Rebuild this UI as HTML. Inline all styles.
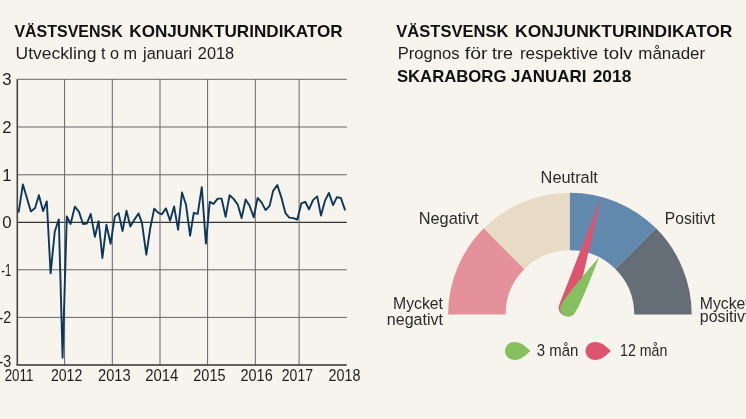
<!DOCTYPE html>
<html><head><meta charset="utf-8"><title>Västsvensk konjunkturindikator</title>
<style>
html,body{margin:0;padding:0;background:#f7f4ed;}
svg{display:block;font-family:"Liberation Sans",sans-serif;fill:#1e1e1e;}
.b{font-weight:bold;fill:#111;}
</style></head><body>
<svg width="746" height="419" viewBox="0 0 746 419">
<rect width="746" height="419" fill="#f7f4ed"/>
<g font-size="16.4">
<text y="37.3" class="b"><tspan x="14.4" textLength="108.3" lengthAdjust="spacingAndGlyphs">VÄSTSVENSK</tspan> <tspan x="129.3" textLength="213.4" lengthAdjust="spacingAndGlyphs">KONJUNKTURINDIKATOR</tspan></text>
<text y="58.9" font-size="16.8"><tspan x="15.6" textLength="80.8" lengthAdjust="spacingAndGlyphs">Utveckling</tspan> <tspan x="101.0" textLength="36.1" lengthAdjust="spacingAndGlyphs">t o m</tspan> <tspan x="143.0" textLength="49.2" lengthAdjust="spacingAndGlyphs">januari</tspan> <tspan x="197.8" textLength="36.4" lengthAdjust="spacingAndGlyphs">2018</tspan></text>
<text y="37.4" class="b" font-size="16.6"><tspan x="396.3" textLength="112.1" lengthAdjust="spacingAndGlyphs">VÄSTSVENSK</tspan> <tspan x="515.1" textLength="217.3" lengthAdjust="spacingAndGlyphs">KONJUNKTURINDIKATOR</tspan></text>
<text y="58.8" font-size="16.8"><tspan x="397.7" textLength="61.9" lengthAdjust="spacingAndGlyphs">Prognos</tspan> <tspan x="464.8" textLength="22.7" lengthAdjust="spacingAndGlyphs">för</tspan> <tspan x="492.0" textLength="21.0" lengthAdjust="spacingAndGlyphs">tre</tspan> <tspan x="519.9" textLength="78.1" lengthAdjust="spacingAndGlyphs">respektive</tspan> <tspan x="603.6" textLength="29.0" lengthAdjust="spacingAndGlyphs">tolv</tspan> <tspan x="638.3" textLength="66.8" lengthAdjust="spacingAndGlyphs">månader</tspan></text>
<text y="81.8" class="b" font-size="16.6"><tspan x="396.9" textLength="109.5" lengthAdjust="spacingAndGlyphs">SKARABORG</tspan> <tspan x="511.1" textLength="75.3" lengthAdjust="spacingAndGlyphs">JANUARI</tspan> <tspan x="592.7" textLength="38.6" lengthAdjust="spacingAndGlyphs">2018</tspan></text>
</g>
<g shape-rendering="auto">
<line x1="17.3" y1="79.3" x2="346.8" y2="79.3" stroke="#666" stroke-width="1"/>
<line x1="17.3" y1="127" x2="346.8" y2="127" stroke="#666" stroke-width="1"/>
<line x1="17.3" y1="174.8" x2="346.8" y2="174.8" stroke="#666" stroke-width="1"/>
<line x1="17.3" y1="222.4" x2="346.8" y2="222.4" stroke="#333" stroke-width="1.4"/>
<line x1="17.3" y1="269.8" x2="346.8" y2="269.8" stroke="#666" stroke-width="1"/>
<line x1="17.3" y1="317.4" x2="346.8" y2="317.4" stroke="#666" stroke-width="1"/>
<line x1="17.3" y1="79.3" x2="17.3" y2="365" stroke="#444" stroke-width="1.6"/>
<line x1="64.6" y1="79.3" x2="64.6" y2="365" stroke="#666" stroke-width="1"/>
<line x1="112.3" y1="79.3" x2="112.3" y2="365" stroke="#666" stroke-width="1"/>
<line x1="160" y1="79.3" x2="160" y2="365" stroke="#666" stroke-width="1"/>
<line x1="207.6" y1="79.3" x2="207.6" y2="365" stroke="#666" stroke-width="1"/>
<line x1="255.3" y1="79.3" x2="255.3" y2="365" stroke="#666" stroke-width="1"/>
<line x1="299.1" y1="79.3" x2="299.1" y2="365" stroke="#666" stroke-width="1"/>
<line x1="16.5" y1="365" x2="346.8" y2="365" stroke="#333" stroke-width="1.6"/>
</g>
<polyline points="18.7,211.9 22.9,184.4 26.9,197.9 30.9,211.4 35.1,208.1 38.9,195.2 43.1,211.1 46.8,201.4 50.6,273.4 54.8,231.5 58.8,219.4 62.6,357.7 66.8,216.4 70.6,224 74.8,206.7 79,211.9 83,224 86.9,223.5 90.7,213.9 94.9,236.8 98.6,221.1 102.4,258 106.4,224.8 110.6,243.8 114.8,216.4 118.6,213.1 122.5,231.1 126.5,210.6 130.3,226.5 134.5,219.5 138.5,213.4 142,223.1 146.3,254.7 150.3,228 154.2,208.6 158.4,212.8 161.9,214.3 165.9,208.4 170.1,220.6 174.1,206.4 178.1,229.8 182,192.5 186,204.7 190.1,235.7 193.8,212.8 197.7,213.9 201.8,187.2 205.9,243.6 209.7,201.9 213.5,203.9 217.7,198.6 221.6,198.6 225.6,216.8 229.6,195.2 233.6,198.9 237.8,204.7 241.6,218.1 245.6,199.5 249.6,205.8 253.7,217.3 257.6,197.9 261.7,202.6 265.6,210.1 269.6,205.9 273.1,190.9 277.3,185 281.4,197.6 285.4,213.1 289.3,217.6 293.5,218.1 297.3,219.6 301.3,203.4 305.2,201.8 309,209.3 313,200.1 317.2,196.4 321,215.5 324.9,200.9 328.9,192.9 333.1,205.1 336.9,197.2 340.8,197.9 344.9,209.6" fill="none" stroke="#0d3759" stroke-width="1.9" stroke-linejoin="round" stroke-linecap="round"/>
<g font-size="16.8">
<text x="11.6" y="85.2" text-anchor="end">3</text>
<text x="11.6" y="132.9" text-anchor="end">2</text>
<text x="11.6" y="180.7" text-anchor="end">1</text>
<text x="11.6" y="228.3" text-anchor="end">0</text>
<text x="1.2" y="275.7" textLength="10.0" lengthAdjust="spacingAndGlyphs">-1</text>
<text x="-1.5" y="323.3" textLength="12.7" lengthAdjust="spacingAndGlyphs">-2</text>
<text x="-1.5" y="366.5" textLength="12.7" lengthAdjust="spacingAndGlyphs">-3</text>
<text x="4.7" y="381.2" textLength="28.7" lengthAdjust="spacingAndGlyphs">2011</text>
<text x="50.9" y="381.2" textLength="31.4" lengthAdjust="spacingAndGlyphs">2012</text>
<text x="98" y="381.2" textLength="32.599999999999994" lengthAdjust="spacingAndGlyphs">2013</text>
<text x="145.2" y="381.2" textLength="33.10000000000002" lengthAdjust="spacingAndGlyphs">2014</text>
<text x="193.3" y="381.2" textLength="32.19999999999999" lengthAdjust="spacingAndGlyphs">2015</text>
<text x="240.5" y="381.2" textLength="32.19999999999999" lengthAdjust="spacingAndGlyphs">2016</text>
<text x="281.8" y="381.2" textLength="31.19999999999999" lengthAdjust="spacingAndGlyphs">2017</text>
<text x="328.6" y="381.2" textLength="31.799999999999955" lengthAdjust="spacingAndGlyphs">2018</text>
</g>
<path d="M483.77,228.37 A121.8,121.8 0 0 0 448.10,314.50 L505.60,314.50 A64.3,64.3 0 0 1 524.43,269.03 Z" fill="#e5919c"/>
<path d="M569.90,192.70 A121.8,121.8 0 0 0 483.77,228.37 L524.43,269.03 A64.3,64.3 0 0 1 569.90,250.20 Z" fill="#e7dbc5"/>
<path d="M656.03,228.37 A121.8,121.8 0 0 0 569.90,192.70 L569.90,250.20 A64.3,64.3 0 0 1 615.37,269.03 Z" fill="#6189ae"/>
<path d="M691.70,314.50 A121.8,121.8 0 0 0 656.03,228.37 L615.37,269.03 A64.3,64.3 0 0 1 634.20,314.50 Z" fill="#656d77"/>
<path d="M601.50,196.50 L575.08,309.69 A8.3,8.3 0 1 1 559.27,304.78 Z" fill="#dc5470"/>
<path d="M599.00,257.20 C591.05,278.09 581.27,302.53 575.11,312.83 C572.83,316.65 567.88,317.89 564.07,315.61 C560.25,313.33 559.01,308.38 561.29,304.57 C567.45,294.27 584.36,274.09 599.00,257.20 Z" fill="#86c05e"/>
<path d="M530.30,351 C525.00,346 521.00,342.1 514.50,342.1 C509.00,342.1 505.00,346 505.00,351 C505.00,356 509.00,359.9 514.50,359.9 C521.00,359.9 525.00,356 530.30,351 Z" fill="#86c05e"/>
<path d="M610.90,351 C605.60,346 601.60,342.1 595.10,342.1 C589.60,342.1 585.60,346 585.60,351 C585.60,356 589.60,359.9 595.10,359.9 C601.60,359.9 605.60,356 610.90,351 Z" fill="#dc5470"/>
<g font-size="16.3" fill="#2b2b2b">
<text x="540.6" y="182.6" textLength="57.3" lengthAdjust="spacingAndGlyphs">Neutralt</text>
<text x="418.7" y="224.3" textLength="59.9" lengthAdjust="spacingAndGlyphs">Negativt</text>
<text x="664.8" y="224.4" textLength="50.3" lengthAdjust="spacingAndGlyphs">Positivt</text>
<text x="393.1" y="308.9" textLength="49.9" lengthAdjust="spacingAndGlyphs">Mycket</text>
<text x="386.8" y="324.7" textLength="56.2" lengthAdjust="spacingAndGlyphs">negativt</text>
<text x="699.8" y="308.7" textLength="49.9" lengthAdjust="spacingAndGlyphs">Mycket</text>
<text x="699.8" y="322.4" textLength="49.6" lengthAdjust="spacingAndGlyphs">positivt</text>
<text x="536.8" y="355.8" textLength="41.5" lengthAdjust="spacingAndGlyphs">3 mån</text>
<text x="620.1" y="355.8" textLength="47.2" lengthAdjust="spacingAndGlyphs">12 mån</text>
</g>
</svg>
</body></html>
